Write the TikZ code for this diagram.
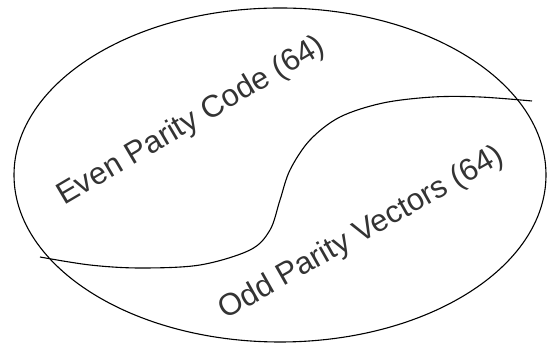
\documentclass[tikz,border=0pt]{standalone}
\usepackage{fontspec}
\setmainfont{Liberation Sans}
\begin{document}
\begin{tikzpicture}[x=1pt,y=1pt,
  outline/.style={draw=black,line width=1.1pt},
  lbl/.style={inner sep=0pt,anchor=base west,text=black!80,font=\fontsize{31}{36}\selectfont}]
\useasboundingbox (0,0) rectangle (547,347);
% ellipse (pixel coords, y flipped)
\draw[outline] (280,172) ellipse [x radius=266,y radius=167];
% dividing curve
\draw[outline] plot[smooth,tension=0.55] coordinates
  {(40,90) (90,82) (140,79) (200,82) (250,97) (270,117) (280,147) (290,177) (310,207) (340,230) (383,244) (433,250) (480,250) (532,246)};
\node[lbl,rotate=30.5] (even) at (64,141) {Even Parity Code (64)};
\node[lbl,rotate=29.5] (odd) at (225,27) {Odd Parity Vectors (64)};
\end{tikzpicture}
\end{document}
